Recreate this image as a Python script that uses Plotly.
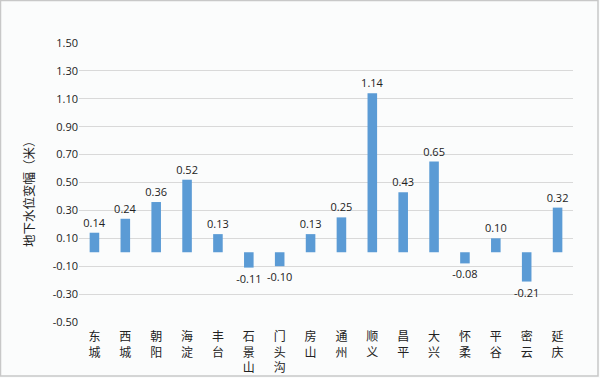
import plotly.graph_objects as go

districts = ["东城", "西城", "朝阳", "海淀", "丰台", "石景山", "门头沟", "房山",
             "通州", "顺义", "昌平", "大兴", "怀柔", "平谷", "密云", "延庆"]
values = [0.14, 0.24, 0.36, 0.52, 0.13, -0.11, -0.10, 0.13,
          0.25, 1.14, 0.43, 0.65, -0.08, 0.10, -0.21, 0.32]
tick_vals = [-0.5, -0.3, -0.1, 0.1, 0.3, 0.5, 0.7, 0.9, 1.1, 1.3, 1.5]
tick_text = ["%.2f" % v for v in tick_vals]
y_title = "地下水位变幅（米）"

W, H = 600, 378
ml, mr, mt, mb = 79, 27, 43, 56
pw, ph = W - ml - mr, H - mt - mb
bg = "#fbfcfc"

cat_labels = ["<br>".join(list(d)) for d in districts]

fig = go.Figure(go.Bar(
    x=cat_labels, y=values,
    marker=dict(color="#5B9BD5", line=dict(width=0)),
    text=["%.2f" % v for v in values],
    textposition="outside",
    constraintext="none",
    textfont=dict(family="Open Sans, Liberation Sans", size=11, color="#222222"),
    cliponaxis=False,
    width=0.31,
))

fig.update_layout(
    width=W, height=H,
    margin=dict(l=ml, r=mr, t=mt, b=mb),
    paper_bgcolor=bg, plot_bgcolor=bg,
    showlegend=False,
    font=dict(family="Noto Sans CJK SC", color="#222222"),
    xaxis=dict(
        automargin=False,
        tickfont=dict(family="Noto Sans CJK SC", size=12, color="#222222"),
        showgrid=False, zeroline=False, showline=False, ticks="",
        tickangle=0, ticklabelstandoff=6,
    ),
    yaxis=dict(
        automargin=False,
        range=[-0.5, 1.5],
        tickvals=tick_vals, ticktext=tick_text,
        tickfont=dict(family="Open Sans, Liberation Sans", size=11, color="#222222"),
        showgrid=True, gridcolor="#d9d9d9", gridwidth=1,
        zeroline=False, showline=False, ticks="",
    ),
    annotations=[dict(
        text=y_title, textangle=-90, showarrow=False,
        xref="paper", yref="paper",
        x=(28 - ml) / pw, y=(H - mb - 191) / ph,
        xanchor="center", yanchor="middle",
        font=dict(family="Noto Sans CJK SC", size=12.5, color="#222222"),
    )],
    shapes=[dict(
        type="rect", xref="paper", yref="paper",
        x0=-(ml - 0.5) / pw, x1=1 + (mr - 2) / pw,
        y0=-(mb - 2) / ph, y1=1 + (mt - 0.5) / ph,
        line=dict(color="#c8c8c8", width=1.5), fillcolor="rgba(0,0,0,0)",
        layer="below",
    )],
)

fig.write_html("out.html", config={"displayModeBar": False},
               post_script="document.body.style.margin='0';")
